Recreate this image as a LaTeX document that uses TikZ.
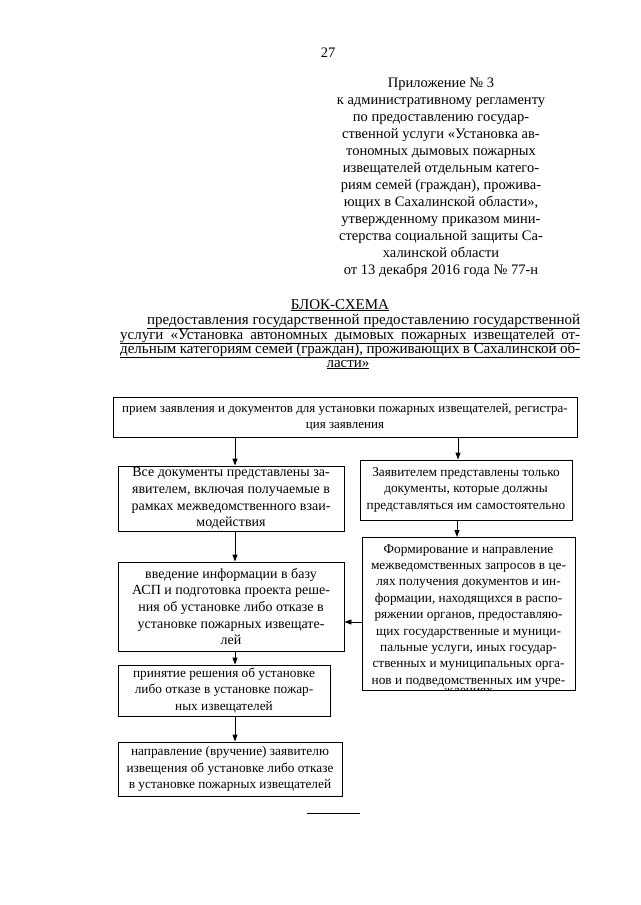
\documentclass[tikz,border=0pt]{standalone}
\usepackage{fontspec}
\setmainfont{Liberation Serif}
\usetikzlibrary{arrows.meta}
\tikzset{
  box/.style={draw=black, line width=0.9pt, inner sep=0pt, align=center,
    font=\fontsize{13.3}{16.2}\selectfont},
  bigbox/.style={box, font=\fontsize{14}{16.6}\selectfont},
  arr/.style={line width=0.9pt, -{Triangle[length=7pt,width=5pt]}},
  head/.style={inner sep=0pt, anchor=base, font=\fontsize{14.5}{17}\selectfont},
  ttl/.style={inner sep=0pt, anchor=base west, font=\fontsize{15}{17}\selectfont},
}
\begin{document}
\begin{tikzpicture}[x=1pt,y=-1pt]
\useasboundingbox[fill=white] (0,0) rectangle (640,905);

\node[head] (pg) at (328,57) {27};
\node[head, anchor=north, align=center] (app) at (441,78) {Приложение № 3\\
к административному регламенту\\
по предоставлению государ-\\
ственной услуги «Установка ав-\\
тономных дымовых пожарных\\
извещателей отдельным катего-\\
риям семей (граждан), прожива-\\
ющих в Сахалинской области»,\\
утвержденному приказом мини-\\
стерства социальной защиты Са-\\
халинской области\\
от 13 декабря 2016 года № 77-н};

\node[ttl, anchor=base] (t0) at (340,309) {\underline{БЛОК-СХЕМА}};
\node[ttl] (t1) at (147,324) {\underline{\makebox[433pt][s]{предоставления государственной предоставлению государственной}}};
\node[ttl] (t2) at (120,339) {\underline{\makebox[460pt][s]{услуги «Установка автономных дымовых пожарных извещателей от-}}};
\node[ttl] (t3) at (120,353) {\underline{\makebox[460pt][s]{дельным категориям семей (граждан), проживающих в Сахалинской об-}}};
\node[ttl, anchor=base] (t4) at (348,367) {\underline{ласти»}};

\node[box, font=\fontsize{13}{15.8}\selectfont, minimum width=464pt, minimum height=40pt] (b1) at (345,417)
  {прием заявления и документов для установки пожарных извещателей, регистра-\\ция заявления};
\node[bigbox, minimum width=226pt, minimum height=65pt] (b2) at (231,498.5)
  {Все документы представлены за-\\явителем, включая получаемые в\\рамках межведомственного взаи-\\модействия};
\node[box, minimum width=212pt, minimum height=60pt] (b3) at (466,490)
  {Заявителем представлены только\\документы, которые должны\\представляться им самостоятельно};
\node[bigbox, minimum width=226pt, minimum height=89pt] (b4) at (231,606.5)
  {введение информации в базу\\АСП и подготовка проекта реше-\\ния об установке либо отказе в\\установке пожарных извещате-\\лей};
\node[box, minimum width=213pt, minimum height=153pt, anchor=north] (b5) at (468.5,537) {};
\begin{scope}
\clip (b5.south west) rectangle (b5.north east);
\node[box, draw=none, anchor=north, font=\fontsize{13.3}{16.4}\selectfont] (b5t) at (468.5,544)
  {Формирование и направление\\межведомственных запросов в це-\\лях получения документов и ин-\\формации, находящихся в распо-\\ряжении органов, предоставляю-\\щих государственные и муници-\\пальные услуги, иных государ-\\ственных и муниципальных орга-\\нов и подведомственных им учре-\\[-6pt]ждениях};
\end{scope}
\node[box, minimum width=212pt, minimum height=51pt] (b6) at (224,690.5)
  {принятие решения об установке\\либо отказе в установке пожар-\\ных извещателей};
\node[box, minimum width=224pt, minimum height=54pt] (b7) at (230,769)
  {направление (вручение) заявителю\\извещения об установке либо отказе\\в установке пожарных извещателей};

\draw[arr] (235,0 |- b1.south) -- (235,0 |- b2.north);
\draw[arr] (458,0 |- b1.south) -- (458,0 |- b3.north);
\draw[arr] (235,0 |- b2.south) -- (235,0 |- b4.north);
\draw[arr] (457,0 |- b3.south) -- (457,0 |- b5.north);
\draw[arr] (b5.west |- 0,622) -- (b4.east |- 0,622);
\draw[arr] (235,0 |- b4.south) -- (235,0 |- b6.north);
\draw[arr] (235,0 |- b6.south) -- (235,0 |- b7.north);

\coordinate (r1) at (307,813);
\coordinate (r2) at (360,813);
\draw[line width=0.8pt] (r1) -- (r2);
\end{tikzpicture}
\end{document}
